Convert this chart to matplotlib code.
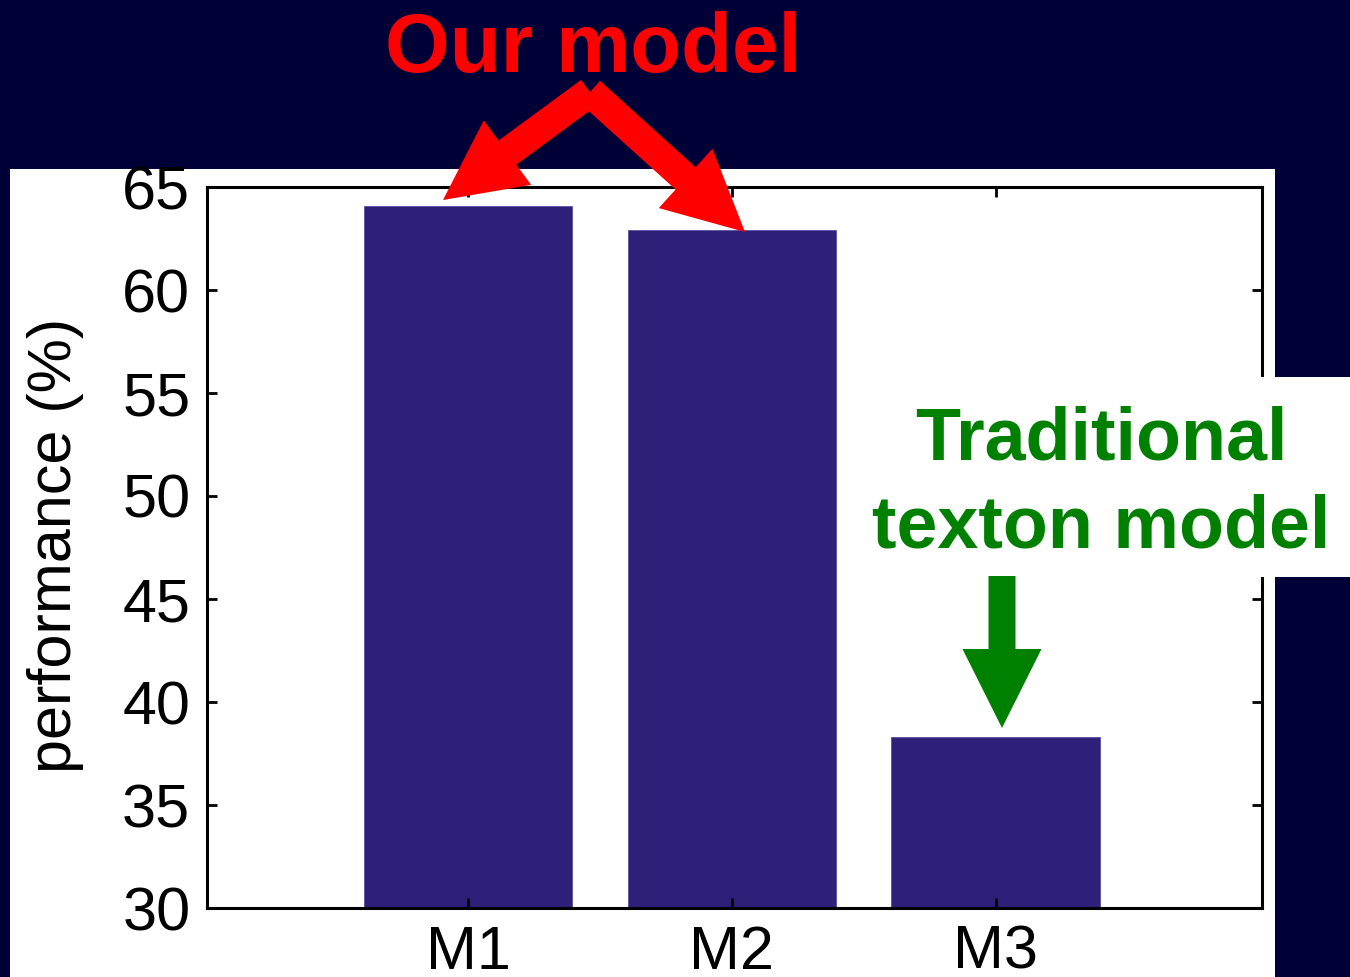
import numpy as np
import matplotlib
matplotlib.use("Agg")
import matplotlib.pyplot as plt
import matplotlib.patches as patches

# data
models = ["M1", "M2", "M3"]
performance = [64.1, 62.9, 38.3]
yticks = [30, 35, 40, 45, 50, 55, 60, 65]

navy = "#000036"
barcol = "#2e1f78"

plt.rcParams["font.family"] = ["Liberation Sans", "DejaVu Sans"]

fig = plt.figure(figsize=(13.5, 9.77), dpi=100, facecolor=navy)
W, H = 1350, 977

# white panel behind the plot
bg = fig.add_axes([0, 0, 1, 1], zorder=0)
bg.set_xlim(0, W)
bg.set_ylim(H, 0)
bg.axis("off")
bg.add_patch(patches.Rectangle((10, 169), 1265, 820, color="white", lw=0))

ax = fig.add_axes([207 / W, 1 - 908 / H, 1055 / W, 721 / H], zorder=1)
x = np.arange(1, len(models) + 1)
ax.bar(x, performance, width=0.79, color=barcol, edgecolor="#5a4fa0", linewidth=0.6)
ax.set_xlim(0.01, 4.01)
ax.set_ylim(30, 65)
ax.set_yticks(yticks)
ax.set_xticks(x)
ax.set_xticklabels(models)
ax.tick_params(direction="in", length=7, width=2, labelsize=44,
               top=True, right=True, colors="black")
ax.tick_params(axis="y", pad=12)
ax.tick_params(axis="x", pad=12)
for sp in ax.spines.values():
    sp.set_linewidth(2.2)

# overlay in pixel coordinates for annotations
ov = fig.add_axes([0, 0, 1, 1], zorder=2)
ov.set_xlim(0, W)
ov.set_ylim(H, 0)
ov.axis("off")
ov.patch.set_alpha(0)

fig.text(55 / W, 1 - 545 / H, "performance (%)", rotation=90, ha="center",
         va="center", fontsize=44, color="black")

ov.text(593, 72, "Our model", color="red", fontsize=60, fontweight="bold",
        ha="center", va="baseline")
ov.add_patch(patches.FancyArrow(590, 92, 443 - 590, 200 - 92, width=30,
                                head_width=80, head_length=80,
                                length_includes_head=True, color="red", lw=0))
ov.add_patch(patches.FancyArrow(590, 92, 745 - 590, 232 - 92, width=30,
                                head_width=80, head_length=80,
                                length_includes_head=True, color="red", lw=0))

# white box behind the green label
ov.add_patch(patches.Rectangle((860, 377), 490, 200, color="white", lw=0))
ov.text(1101, 460, "Traditional", color="#008000", fontsize=53,
        fontweight="bold", ha="center", va="baseline")
ov.text(1101, 548, "texton model", color="#008000", fontsize=53,
        fontweight="bold", ha="center", va="baseline")
ov.add_patch(patches.FancyArrow(1002, 576, 0, 728 - 576, width=27,
                                head_width=79, head_length=79,
                                length_includes_head=True, color="#008000", lw=0))

fig.savefig("out.png", dpi=100, facecolor=navy)
